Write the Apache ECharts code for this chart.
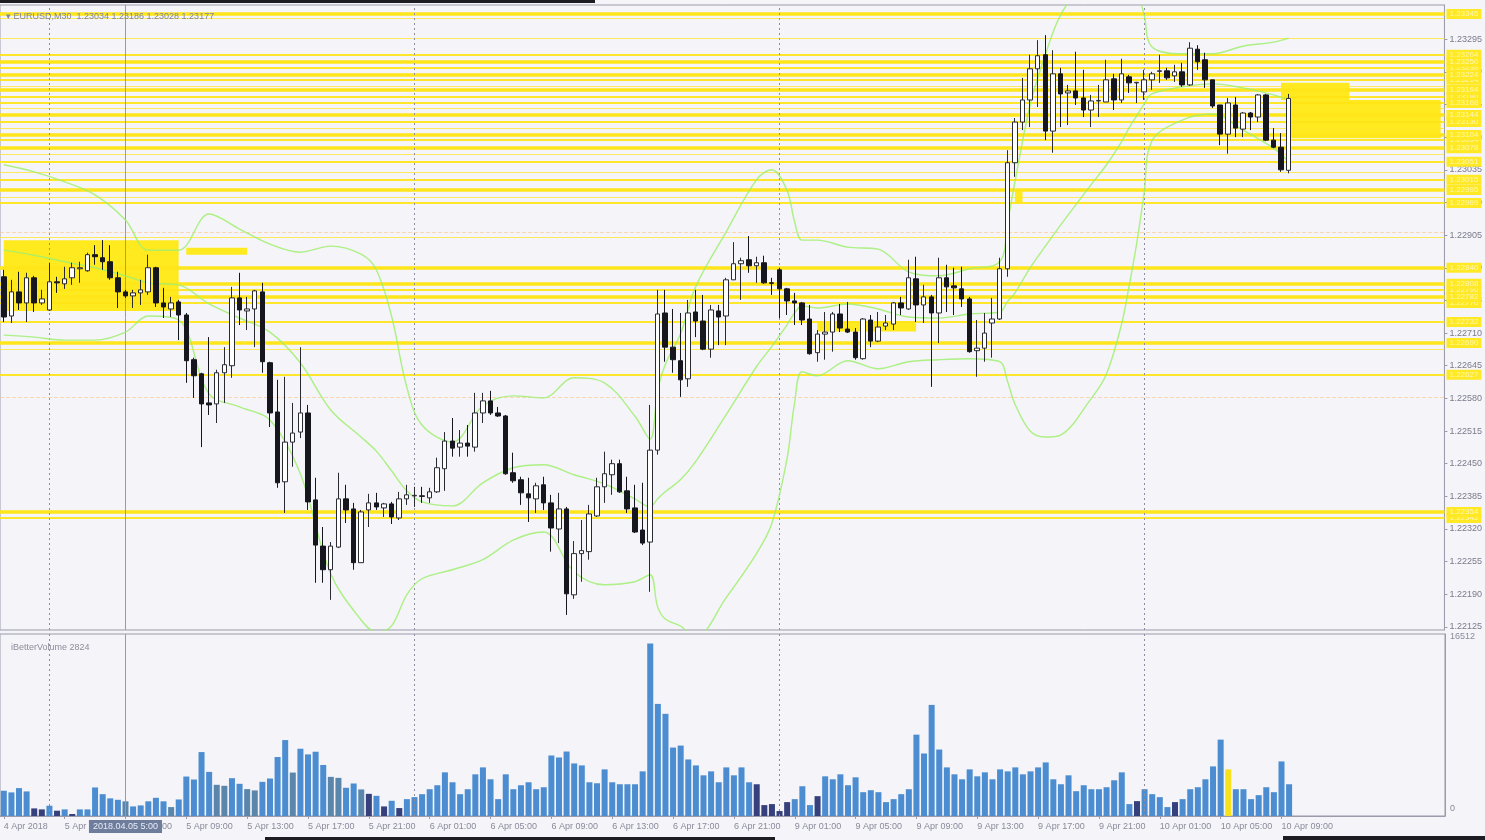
<!DOCTYPE html>
<html><head><meta charset="utf-8">
<script src="https://cdn.jsdelivr.net/npm/echarts@6/dist/echarts.min.js"></script>
<style>html,body{margin:0;padding:0;background:#f4f4f9;}#c{width:1485px;height:840px;}</style>
</head><body><div id="c"></div>
<script>
// ---- data ----
const titleText = 'EURUSD,M30  1.23034 1.23186 1.23028 1.23177';
const volumeTitle = 'iBetterVolume 2824';
// trading sessions: [date label, first hour, last hour (exclusive)]
const sessions = [['2018.04.04',21,24],['2018.04.05',0,24],['2018.04.06',0,24],['2018.04.09',0,24],['2018.04.10',0,20]];
// candles: [open, close, low, high]
const candles = [
[1.22822,1.22742,1.22732,1.22836],[1.22744,1.22792,1.22730,1.22816],[1.22792,1.22770,1.22756,1.22832],[1.22770,1.22820,1.22732,1.22830],
[1.22820,1.22770,1.22752,1.22824],[1.22770,1.22778,1.22766,1.22796],[1.22756,1.22812,1.22754,1.22850],[1.22812,1.22810,1.22790,1.22822],
[1.22808,1.22818,1.22798,1.22842],[1.22820,1.22840,1.22806,1.22850],[1.22838,1.22840,1.22810,1.22852],[1.22834,1.22866,1.22832,1.22870],
[1.22866,1.22862,1.22846,1.22885],[1.22860,1.22852,1.22836,1.22895],[1.22852,1.22820,1.22816,1.22885],[1.22820,1.22792,1.22760,1.22832],
[1.22792,1.22784,1.22780,1.22796],[1.22784,1.22790,1.22760,1.22796],[1.22790,1.22796,1.22766,1.22816],[1.22792,1.22840,1.22786,1.22866],
[1.22840,1.22770,1.22762,1.22842],[1.22770,1.22762,1.22740,1.22800],[1.22758,1.22770,1.22742,1.22782],[1.22772,1.22746,1.22696,1.22776],
[1.22746,1.22655,1.22611,1.22750],[1.22657,1.22625,1.22581,1.22661],[1.22629,1.22569,1.22483,1.22631],[1.22571,1.22567,1.22547,1.22702],
[1.22569,1.22631,1.22531,1.22637],[1.22631,1.22647,1.22571,1.22682],[1.22645,1.22780,1.22621,1.22802],[1.22780,1.22756,1.22726,1.22830],
[1.22754,1.22758,1.22716,1.22782],[1.22758,1.22794,1.22682,1.22796],[1.22792,1.22653,1.22631,1.22810],[1.22651,1.22551,1.22523,1.22653],
[1.22553,1.22412,1.22402,1.22617],[1.22414,1.22493,1.22352,1.22623],[1.22493,1.22511,1.22444,1.22571],[1.22513,1.22551,1.22501,1.22682],
[1.22551,1.22374,1.22358,1.22567],[1.22378,1.22288,1.22213,1.22422],[1.22286,1.22239,1.22213,1.22324],[1.22239,1.22286,1.22179,1.22294],
[1.22284,1.22380,1.22282,1.22432],[1.22380,1.22358,1.22332,1.22408],[1.22360,1.22253,1.22239,1.22372],[1.22253,1.22354,1.22253,1.22358],
[1.22358,1.22372,1.22324,1.22390],[1.22372,1.22364,1.22358,1.22392],[1.22362,1.22370,1.22344,1.22372],[1.22370,1.22344,1.22330,1.22374],
[1.22342,1.22380,1.22338,1.22394],[1.22380,1.22388,1.22368,1.22408],[1.22386,1.22387,1.22364,1.22404],[1.22386,1.22385,1.22372,1.22404],
[1.22382,1.22394,1.22372,1.22402],[1.22394,1.22442,1.22392,1.22462],[1.22440,1.22495,1.22396,1.22513],[1.22495,1.22481,1.22464,1.22541],
[1.22483,1.22491,1.22464,1.22517],[1.22491,1.22485,1.22464,1.22527],[1.22483,1.22551,1.22474,1.22591],[1.22551,1.22575,1.22531,1.22591],
[1.22575,1.22551,1.22547,1.22595],[1.22551,1.22545,1.22543,1.22563],[1.22545,1.22430,1.22428,1.22547],[1.22432,1.22416,1.22412,1.22472],
[1.22418,1.22392,1.22368,1.22424],[1.22390,1.22382,1.22334,1.22422],[1.22380,1.22406,1.22352,1.22412],[1.22408,1.22372,1.22358,1.22424],
[1.22372,1.22322,1.22275,1.22388],[1.22320,1.22360,1.22292,1.22392],[1.22360,1.22191,1.22149,1.22364],[1.22189,1.22271,1.22181,1.22296],
[1.22271,1.22277,1.22215,1.22338],[1.22275,1.22350,1.22259,1.22368],[1.22346,1.22404,1.22344,1.22422],[1.22404,1.22430,1.22372,1.22474],
[1.22428,1.22450,1.22388,1.22458],[1.22450,1.22394,1.22392,1.22458],[1.22396,1.22360,1.22352,1.22424],[1.22362,1.22314,1.22312,1.22408],
[1.22318,1.22292,1.22288,1.22412],[1.22294,1.22477,1.22195,1.22567],[1.22477,1.22748,1.22468,1.22796],[1.22750,1.22682,1.22653,1.22796],
[1.22682,1.22657,1.22631,1.22758],[1.22655,1.22617,1.22583,1.22750],[1.22619,1.22750,1.22603,1.22776],[1.22752,1.22734,1.22702,1.22796],
[1.22734,1.22678,1.22676,1.22786],[1.22678,1.22756,1.22661,1.22766],[1.22754,1.22742,1.22686,1.22766],[1.22744,1.22816,1.22686,1.22820],
[1.22816,1.22848,1.22816,1.22891],[1.22848,1.22854,1.22776,1.22860],[1.22856,1.22844,1.22830,1.22903],[1.22844,1.22850,1.22810,1.22862],
[1.22850,1.22810,1.22808,1.22864],[1.22810,1.22809,1.22786,1.22820],[1.22836,1.22798,1.22740,1.22840],[1.22798,1.22774,1.22746,1.22800],
[1.22774,1.22770,1.22726,1.22790],[1.22770,1.22736,1.22726,1.22772],[1.22738,1.22669,1.22667,1.22766],[1.22671,1.22708,1.22653,1.22716],
[1.22708,1.22712,1.22657,1.22752],[1.22712,1.22748,1.22673,1.22752],[1.22748,1.22720,1.22712,1.22768],[1.22718,1.22712,1.22710,1.22772],
[1.22712,1.22661,1.22657,1.22720],[1.22659,1.22738,1.22657,1.22740],[1.22736,1.22694,1.22682,1.22746],[1.22694,1.22722,1.22692,1.22752],
[1.22724,1.22730,1.22716,1.22746],[1.22728,1.22770,1.22716,1.22772],[1.22770,1.22760,1.22746,1.22782],[1.22758,1.22820,1.22756,1.22856],
[1.22818,1.22766,1.22732,1.22862],[1.22766,1.22782,1.22730,1.22806],[1.22782,1.22750,1.22603,1.22786],[1.22750,1.22820,1.22690,1.22860],
[1.22820,1.22802,1.22752,1.22846],[1.22804,1.22800,1.22746,1.22840],[1.22798,1.22778,1.22762,1.22842],[1.22778,1.22673,1.22671,1.22782],
[1.22675,1.22680,1.22623,1.22736],[1.22680,1.22710,1.22653,1.22750],[1.22730,1.22738,1.22661,1.22780],[1.22738,1.22838,1.22736,1.22860],
[1.22838,1.23049,1.22822,1.23074],[1.23049,1.23130,1.23021,1.23138],[1.23130,1.23174,1.23114,1.23218],[1.23174,1.23236,1.23120,1.23264],
[1.23236,1.23262,1.23160,1.23293],[1.23264,1.23112,1.23094,1.23303],[1.23112,1.23226,1.23069,1.23273],[1.23226,1.23186,1.23120,1.23238],
[1.23188,1.23192,1.23124,1.23204],[1.23192,1.23178,1.23164,1.23270],[1.23178,1.23154,1.23140,1.23234],[1.23154,1.23172,1.23120,1.23184],
[1.23172,1.23173,1.23140,1.23204],[1.23170,1.23214,1.23170,1.23254],[1.23216,1.23174,1.23154,1.23226],[1.23174,1.23226,1.23168,1.23256],
[1.23220,1.23208,1.23188,1.23224],[1.23208,1.23209,1.23168,1.23210],[1.23190,1.23214,1.23174,1.23234],[1.23214,1.23226,1.23194,1.23230],
[1.23231,1.23232,1.23208,1.23264],[1.23232,1.23218,1.23214,1.23238],[1.23222,1.23230,1.23210,1.23244],[1.23230,1.23204,1.23200,1.23248],
[1.23204,1.23277,1.23202,1.23289],[1.23275,1.23250,1.23234,1.23283],[1.23254,1.23214,1.23198,1.23268],[1.23214,1.23162,1.23158,1.23214],
[1.23164,1.23106,1.23084,1.23164],[1.23106,1.23168,1.23067,1.23178],[1.23164,1.23118,1.23100,1.23180],[1.23116,1.23148,1.23100,1.23150],
[1.23148,1.23140,1.23114,1.23150],[1.23140,1.23184,1.23130,1.23186],[1.23184,1.23094,1.23092,1.23186],[1.23094,1.23080,1.23078,1.23118],
[1.23080,1.23035,1.23031,1.23108],[1.23034,1.23177,1.23028,1.23186]
];
const volumes = [
2290,2140,2530,2230,690,600,930,480,600,180,600,600,2590,1980,1600,1470,1330,870,960,1330,
1650,1330,810,1500,3580,3310,5800,4000,2830,2740,3430,2920,2440,2320,3100,3400,5350,6890,3940,6100,
5590,5830,4630,3550,3460,2560,2950,2410,2010,1830,870,1380,720,1530,1710,1980,2430,2790,3960,3060,
1980,2430,3780,4410,3330,1530,3780,2430,2790,3060,2430,2610,5490,5310,5850,4770,4590,3060,2970,4230,
3060,2880,2880,2880,4050,15660,10170,9270,6210,6390,5130,4590,3690,4050,3060,4410,3690,4410,3060,2880,
990,1080,450,1260,1530,2700,990,1800,3600,3330,3780,2790,3510,2160,2340,2160,1260,1530,1980,2430,
7380,5670,10080,6030,4410,3780,3330,4230,3600,3960,3330,4230,4050,4410,3780,4050,4410,4860,3330,2880,
3690,2250,2790,2430,2430,2610,3240,3960,1080,1350,2430,1980,1710,810,1260,1530,2430,2610,3330,4500,
6930,4230,2430,2430,1530,1890,2610,2160,4950,2880
];
// BetterVolume colour class per bar: b=blue, g=grey-blue, d=dark, y=yellow
const volumeClass =
'bbbbddbdbdbbbbbbgbbbbbgbbbbbggbbggbbbbgbbbbggbbgdbdbd' +
'bbbbbbbbbbbbbbbbbbbbbbbbbbbbbbbbbbbbbbbbbbbbbbdddddbbbd' +
'bbbbbbbbbbbbbbbbbbbbbbbbbbbbbbbbbbbbbbbbbdbbbbdbbbbbbyb' +
'bbbbbbbbb';
// Bollinger bands: [bar index, price]
const bbUpper = [[0,1.23045],[4,1.23031],[8,1.23011],[12,1.22985],[16,1.22935],[19,1.22875],[23,1.22875],[27,1.22947],[31,1.22917],[35,1.22887],
[39,1.22871],[43,1.22883],[47,1.22867],[49,1.22836],[51,1.22744],[53,1.22603],[55,1.22527],[59,1.22493],[63,1.22565],[67,1.22585],[71,1.22581],
[75,1.22621],[79,1.22611],[83,1.22545],[85,1.22499],[86,1.22595],[87,1.22647],[89,1.22708],[91,1.22802],[95,1.22911],[99,1.23015],[101,1.23035],
[103,1.22995],[104,1.22933],[105,1.22895],[107,1.22895],[111,1.22881],[115,1.22877],[119,1.22832],[123,1.22824],[127,1.22838],[131,1.22852],
[132,1.22927],[133,1.23011],[135,1.23164],[137,1.23264],[139,1.23343],[143,1.23431],[145,1.23461],[147,1.23455],[148,1.23433],[149,1.23397],
[150,1.23343],[151,1.23280],[155,1.23266],[159,1.23266],[163,1.23281],[167,1.23289],[169,1.23297]];
const bbMiddle = [[0,1.22875],[4,1.22865],[8,1.22852],[12,1.22840],[16,1.22824],[19,1.22810],[23,1.22806],[27,1.22768],[31,1.22740],[35,1.22712],
[39,1.22651],[43,1.22557],[47,1.22503],[49,1.22475],[51,1.22436],[53,1.22396],[55,1.22374],[59,1.22366],[63,1.22412],[67,1.22442],[71,1.22448],
[75,1.22428],[79,1.22410],[83,1.22380],[85,1.22364],[86,1.22380],[87,1.22394],[89,1.22418],[91,1.22454],[95,1.22547],[99,1.22643],[101,1.22683],
[103,1.22726],[104,1.22750],[105,1.22764],[107,1.22760],[111,1.22768],[115,1.22758],[119,1.22742],[123,1.22740],[127,1.22748],[131,1.22752],
[132,1.22772],[133,1.22790],[135,1.22840],[137,1.22883],[139,1.22925],[143,1.23005],[145,1.23044],[147,1.23090],[148,1.23118],[149,1.23142],
[150,1.23166],[151,1.23186],[155,1.23200],[159,1.23206],[163,1.23198],[167,1.23184],[169,1.23174]];
const bbLower = [[0,1.22706],[4,1.22702],[8,1.22696],[12,1.22696],[16,1.22712],[19,1.22744],[23,1.22736],[27,1.22589],[31,1.22563],[35,1.22537],
[39,1.22430],[43,1.22231],[47,1.22139],[49,1.22115],[51,1.22127],[53,1.22189],[55,1.22221],[59,1.22239],[63,1.22259],[67,1.22298],[71,1.22314],
[75,1.22235],[79,1.22209],[83,1.22215],[85,1.22229],[86,1.22165],[87,1.22141],[89,1.22127],[91,1.22105],[95,1.22183],[99,1.22271],[101,1.22330],
[103,1.22458],[104,1.22569],[105,1.22633],[107,1.22625],[111,1.22655],[115,1.22639],[119,1.22653],[123,1.22657],[127,1.22659],[131,1.22653],
[132,1.22615],[133,1.22569],[135,1.22515],[137,1.22503],[139,1.22507],[143,1.22579],[145,1.22627],[147,1.22726],[148,1.22802],[149,1.22887],
[150,1.22989],[151,1.23092],[155,1.23134],[159,1.23146],[163,1.23114],[167,1.23078],[169,1.23051]];
const xTickLabels = ['4 Apr 2018','5 Apr 01:00','5 Apr 05:00','5 Apr 09:00','5 Apr 13:00','5 Apr 17:00','5 Apr 21:00',
'6 Apr 01:00','6 Apr 05:00','6 Apr 09:00','6 Apr 13:00','6 Apr 17:00','6 Apr 21:00','9 Apr 01:00','9 Apr 05:00',
'9 Apr 09:00','9 Apr 13:00','9 Apr 17:00','9 Apr 21:00','10 Apr 01:00','10 Apr 05:00','10 Apr 09:00'];
const priceTicks = [1.22125,1.22190,1.22255,1.22320,1.22385,1.22450,1.22515,1.22580,1.22645,1.22710,1.22775,
1.22840,1.22905,1.22970,1.23035,1.23100,1.23165,1.23230,1.23295];
const volumeTicks = [0,16512];
const daySeparators = ['2018.04.05 0:00','2018.04.06 0:00','2018.04.09 0:00','2018.04.10 0:00'];
const crosshairAt = '2018.04.05 5:00';
const crosshairLabel = '2018.04.05 5:00';
// yellow horizontal price levels (grouped by drawing weight)
const levelsThick = [1.23345,1.23250,1.23224,1.23194,1.23144,1.23104,1.23078,1.22995,1.22840,1.22808,1.22782,1.22690,1.22354];
const levelsMedium = [1.23264,1.23238,1.23214,1.23180,1.23168,1.23130,1.23094,1.23051,1.23015,1.22969,1.22796,1.22770,1.22732,1.22627,1.22342];
const levelsThin = [1.23337,1.23297,1.23202,1.23158,1.23118,1.23065,1.23031,1.22981,1.22901,1.22678];
const levelsFaint = [1.22911,1.22583];
// yellow zones: [from bar, to bar, low price, high price]
const zones = [
['2018.04.04 21:00','2018.04.05 8:30',1.22754,1.22895],
['2018.04.05 9:00','2018.04.05 13:00',1.22866,1.22880],
['2018.04.10 9:30','2018.04.10 19:30',1.23098,1.23174],
['2018.04.10 9:00','2018.04.10 13:30',1.23174,1.23208],
['2018.04.09 2:30','2018.04.09 9:00',1.22713,1.22733],
['2018.04.09 15:30','2018.04.09 16:00',1.22969,1.22995]
];

// ---- build ----
const cats = [];
sessions.forEach(([d,h0,h1]) => { for (let h=h0; h<h1; h++){ cats.push(d+' '+h+':00'); cats.push(d+' '+h+':30'); } });
const ohlcData = candles.map(c => [c[0],c[1],c[2],c[3]]);
const volColors = {b:'#4b8dd0', g:'#5a86ab', d:'#35407c', y:'#f6e21c'};
const volData = volumes.map((v,i)=>({value:v, itemStyle:{color:volColors[volumeClass[i]] || volColors.b}}));
const fmt = v => Number(v).toFixed(5);

function levelLines(list, width, color, type, label){
  return list.map(v => ({yAxis:v, lineStyle:{width:width, color:color, type:type||'solid'}, label:label}));
}
const yellowTag = {show:true, position:'end', formatter:p=>fmt(p.value), backgroundColor:'#ffe924', color:'#fff6b0', fontSize:8, padding:[1,3], distance:2, fontFamily:'Liberation Sans'};
const noLabel = {show:false};
const bandLine = (name, d) => ({type:'line', name:name, xAxisIndex:0, yAxisIndex:0, data:d, smooth:0.35, symbol:'none', z:2, silent:true,
  lineStyle:{color:'rgba(160,238,110,0.85)', width:1.4}, clip:true});
const separatorLines = () => [].concat(
  daySeparators.map(c=>({xAxis:c, lineStyle:{color:'#8d8d9d', type:[2,3], width:1}, label:noLabel})),
  [{xAxis:crosshairAt, lineStyle:{color:'#9a9aa6', type:'solid', width:1}, label:noLabel}]);

const chart = echarts.init(document.getElementById('c'), null, {renderer:'canvas', width:1485, height:840});
chart.setOption({
  animation:false,
  backgroundColor:'#f4f4f9',
  textStyle:{fontFamily:'Liberation Sans'},
  title:[
    {text:'\u25BE '+titleText, left:1, top:7, textStyle:{fontSize:9, fontWeight:'normal', color:'#7c86a6', fontFamily:'Liberation Sans'}},
    {text:volumeTitle, left:6, top:638, textStyle:{fontSize:9, fontWeight:'normal', color:'#8d8d9c', fontFamily:'Liberation Sans'}}
  ],
  graphic:[
    {type:'rect', left:0, top:0, shape:{width:595, height:3}, style:{fill:'#1c1c22'}, silent:true, z:100},
    {type:'rect', left:265, top:837, shape:{width:510, height:3}, style:{fill:'#1c1c22'}, silent:true, z:100},
    {type:'rect', left:1283, top:836, shape:{width:202, height:4}, style:{fill:'#1c1c22'}, silent:true, z:100}
  ],
  grid:[
    {left:-4, right:40, top:5, height:625, show:true, borderColor:'#9b9bab', borderWidth:1, backgroundColor:'transparent'},
    {left:-4, right:40, top:634, height:182, show:true, borderColor:'#9b9bab', borderWidth:1, backgroundColor:'transparent'}
  ],
  xAxis:[
    {type:'category', gridIndex:0, data:cats, boundaryGap:true, axisLine:{show:false}, axisTick:{show:false}, axisLabel:{show:false}, splitLine:{show:false}},
    {type:'category', gridIndex:1, data:cats, boundaryGap:true,
     axisLine:{show:true, lineStyle:{color:'#9b9bab'}},
     axisTick:{show:true, alignWithLabel:true, length:3, interval:(i)=>i%8===0 && i<=168, lineStyle:{color:'#9b9bab'}},
     axisLabel:{show:true, interval:(i)=>i%8===0 && i<=168, formatter:(v,i)=>xTickLabels[i/8]||'', align:'left', fontSize:9, color:'#8a8a9a', margin:6, fontFamily:'Liberation Sans'},
     splitLine:{show:false}}
  ],
  yAxis:[
    {type:'value', gridIndex:0, position:'right', min:1.22119, max:1.23363, splitLine:{show:false},
     axisLine:{show:true, lineStyle:{color:'#9b9bab'}},
     axisTick:{show:true, customValues:priceTicks, length:3, lineStyle:{color:'#9b9bab'}},
     axisLabel:{show:true, customValues:priceTicks, formatter:fmt, fontSize:9, color:'#7b7b8b', margin:5, fontFamily:'Liberation Sans'}},
    {type:'value', gridIndex:1, position:'right', min:0, max:16512, splitLine:{show:false},
     axisLine:{show:true, lineStyle:{color:'#9b9bab'}}, axisTick:{show:false},
     axisLabel:{show:true, customValues:volumeTicks, fontSize:9, color:'#8a8a9a', margin:5, fontFamily:'Liberation Sans',
       formatter:v=> v===0 ? '{z|0}' : '{m|'+v+'}', rich:{z:{padding:[0,0,14,0]}, m:{padding:[5,0,0,0]}}}}
  ],
  series:[
    {type:'line', name:'levels', xAxisIndex:0, yAxisIndex:0, data:[], z:1, silent:true,
     markLine:{symbol:'none', silent:true, animation:false, precision:5, z:1,
       data:[].concat(
         levelLines(levelsFaint,1,'rgba(255,190,120,0.55)','dashed',noLabel),
         levelLines(levelsThin,1,'rgba(255,230,40,0.75)','solid',noLabel),
         levelLines(levelsMedium,2,'rgba(255,228,20,0.9)','solid',yellowTag),
         levelLines(levelsThick,3.5,'#ffe61a','solid',yellowTag)
       )},
     markArea:{silent:true, z:1, itemStyle:{color:'#ffea1f'},
       data: zones.map(z=>[{xAxis:z[0], yAxis:z[2]},{xAxis:z[1], yAxis:z[3]}])}
    },
    {type:'line', name:'separators', xAxisIndex:0, yAxisIndex:0, data:[], z:2, silent:true,
     markLine:{symbol:'none', silent:true, animation:false, z:2, data:separatorLines()}},
    bandLine('BB upper', bbUpper),
    bandLine('BB middle', bbMiddle),
    bandLine('BB lower', bbLower),
    {type:'candlestick', name:'EURUSD', xAxisIndex:0, yAxisIndex:0, data:ohlcData, z:3, barWidth:5,
     itemStyle:{color:'#ffffff', color0:'#16161f', borderColor:'#2a2a33', borderColor0:'#16161f', borderWidth:1}},
    {type:'bar', name:'volume', xAxisIndex:1, yAxisIndex:1, data:volData, barWidth:6, z:2,
     markLine:{symbol:'none', silent:true, animation:false, z:3,
       data:[].concat(
         daySeparators.map(c=>({xAxis:c, lineStyle:{color:'#8d8d9d', type:[2,3], width:1}, label:noLabel})),
         [{xAxis:crosshairAt, lineStyle:{color:'#9a9aa6', type:'solid', width:1},
           label:{show:true, position:'start', formatter:crosshairLabel, backgroundColor:'#6f7d9c', color:'#e8ecf6', fontSize:9, padding:[2,4], distance:4, fontFamily:'Liberation Sans'}}]
       )}}
  ]
});
</script></body></html>
